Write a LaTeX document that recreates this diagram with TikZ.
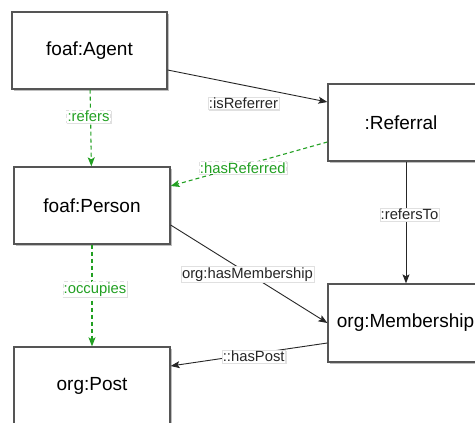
\documentclass[tikz,border=0pt]{standalone}
\usepackage{fontspec}
\setmainfont{Liberation Sans}
\usetikzlibrary{arrows.meta,shadows}
\definecolor{relgreen}{RGB}{34,160,34}
\definecolor{boxgray}{RGB}{85,85,85}

\begin{document}
\begin{tikzpicture}[x=1pt,y=-1pt,
	classbox/.style={draw=boxgray,line width=1.3pt,fill=white,
		minimum width=155pt,minimum height=77pt,
		font=\fontsize{19}{21}\selectfont,
		drop shadow={shadow xshift=1.5pt,shadow yshift=-1.8pt,fill=black,opacity=.25}},
	rel/.style={draw=black!85,line width=.9pt,-{Stealth[length=9pt,width=7pt,inset=2pt]}},
	relgr/.style={rel,draw=relgreen,line width=1.1pt,dash pattern=on 4pt off 3pt},
	lbl/.style={fill=white,draw=black!12,line width=.3pt,inner sep=1pt,
		font=\fontsize{14.8}{16}\selectfont,text=black!85,
		drop shadow={shadow xshift=1pt,shadow yshift=-1pt,fill=black,opacity=.12}},
	lblgr/.style={lbl,text=relgreen}]
	\clip (0,0) rectangle (475,423);
	\fill[white] (0,0) rectangle (475,423);
	\node[classbox] (agent) at (89.5,50.5) {foaf:Agent};
	\node[classbox,minimum width=150pt] (referral) at (403,122.5) {\hspace*{-4pt}:Referral};
	\node[classbox,minimum width=156pt] (person) at (92,205.5) {foaf:Person};
	\node[classbox,minimum width=150pt,minimum height=78pt] (membership) at (403,323) {\hspace*{5pt}org:Membership};
	\node[classbox,minimum width=156pt] (post) at (92,385.5) {org:Post};
	\draw[rel] ([yshift=-19.5pt]agent.east) -- ([yshift=20.5pt]referral.west)
		node[lbl,pos=.475,yshift=-18pt] {:isReferrer};
	\draw[relgr] (agent) -- (person)
		node[lblgr,pos=.35,xshift=-2pt] {:refers};
	\draw[relgr] ([yshift=-19.5pt]referral.west) -- ([yshift=19.5pt]person.east)
		node[lblgr,pos=.54,yshift=-2pt] {:hasReferred};
	\draw[rel] ([xshift=3pt]referral.south) -- ([xshift=3pt]membership.north)
		node[lbl,pos=.435,xshift=3.5pt] {:refersTo};
	\draw[rel] ([yshift=-19.5pt]person.east) -- (membership.west)
		node[lbl,pos=.49,yshift=-1.5pt] {org:hasMembership};
	\draw[relgr] (person) -- (post)
		node[lblgr,pos=.44,xshift=3pt] {:occupies};
	\draw[rel] ([yshift=-20pt]membership.west) -- ([yshift=19.5pt]post.east)
		node[lbl,pos=.47,yshift=-2.5pt] {::hasPost};
\end{tikzpicture}
\end{document}
